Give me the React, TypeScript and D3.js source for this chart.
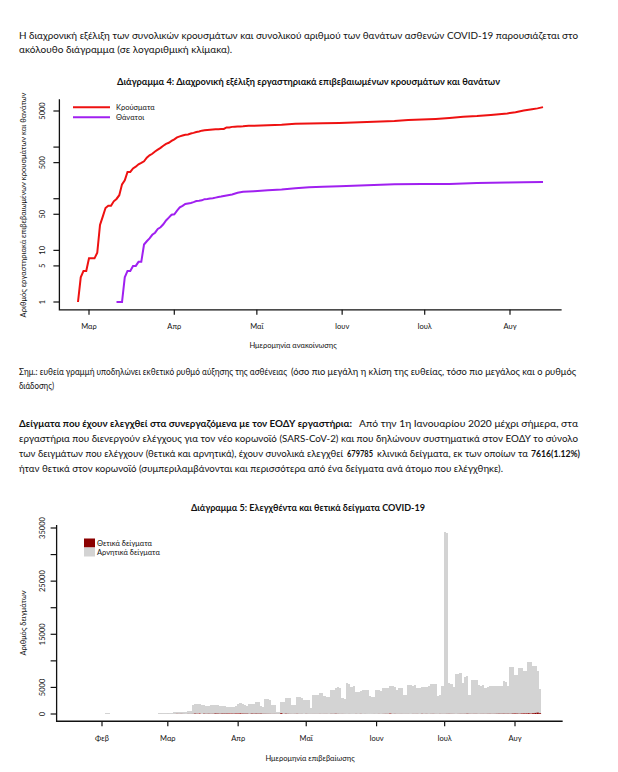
import React from "react";
import * as d3 from "d3";

// ---------- DATA ----------
const caseDates = [
  "2020-02-26","2020-02-27","2020-02-28","2020-02-29","2020-03-01","2020-03-02","2020-03-03","2020-03-04",
  "2020-03-05","2020-03-06","2020-03-07","2020-03-08","2020-03-09","2020-03-10","2020-03-11","2020-03-12",
  "2020-03-13","2020-03-14","2020-03-15","2020-03-16","2020-03-17","2020-03-18","2020-03-19","2020-03-20",
  "2020-03-21","2020-03-22","2020-03-23","2020-03-24","2020-03-25","2020-03-26","2020-03-27","2020-03-28",
  "2020-03-29","2020-03-30","2020-03-31","2020-04-01","2020-04-02","2020-04-03","2020-04-04","2020-04-05",
  "2020-04-06","2020-04-07","2020-04-08","2020-04-09","2020-04-10","2020-04-11","2020-04-12","2020-04-13",
  "2020-04-14","2020-04-15","2020-04-16","2020-04-17","2020-04-18","2020-04-19","2020-04-20","2020-04-21",
  "2020-04-22","2020-04-23","2020-04-24","2020-04-25","2020-04-26","2020-04-27","2020-04-28","2020-04-29",
  "2020-04-30","2020-05-05","2020-05-10","2020-05-15","2020-05-20","2020-05-25","2020-05-31","2020-06-05",
  "2020-06-10","2020-06-15","2020-06-20","2020-06-25","2020-06-30","2020-07-05","2020-07-10","2020-07-15",
  "2020-07-20","2020-07-25","2020-07-31","2020-08-03","2020-08-06","2020-08-09","2020-08-11","2020-08-13"
];
const caseTotals = [
  1, 3, 4, 4, 7, 7, 7, 9,
  31, 45, 66, 73, 73, 89, 99, 117,
  190, 228, 331, 331, 387, 418, 464, 495,
  530, 624, 695, 743, 821, 892, 966, 1061,
  1156, 1212, 1314, 1415, 1544, 1613, 1673, 1735,
  1755, 1832, 1884, 1955, 2011, 2081, 2114, 2145,
  2170, 2192, 2207, 2224, 2235, 2245, 2401, 2408,
  2463, 2490, 2506, 2517, 2534, 2566, 2576, 2591,
  2591, 2663, 2710, 2819, 2850, 2882, 2918, 2980,
  3058, 3121, 3203, 3343, 3409, 3519, 3672, 3876,
  3983, 4193, 4477, 4737, 5123, 5421, 5623, 5942
];
const deathDates = [
  "2020-03-11","2020-03-12","2020-03-13","2020-03-14","2020-03-15","2020-03-16","2020-03-17","2020-03-18",
  "2020-03-19","2020-03-20","2020-03-21","2020-03-22","2020-03-23","2020-03-24","2020-03-25","2020-03-26",
  "2020-03-27","2020-03-28","2020-03-29","2020-03-30","2020-03-31","2020-04-01","2020-04-02","2020-04-03",
  "2020-04-04","2020-04-05","2020-04-06","2020-04-07","2020-04-08","2020-04-09","2020-04-10","2020-04-11",
  "2020-04-12","2020-04-13","2020-04-14","2020-04-15","2020-04-16","2020-04-17","2020-04-18","2020-04-19",
  "2020-04-20","2020-04-22","2020-04-24","2020-04-26","2020-04-28","2020-04-30","2020-05-05","2020-05-10",
  "2020-05-15","2020-05-20","2020-05-25","2020-05-31","2020-06-10","2020-06-20","2020-06-30","2020-07-10",
  "2020-07-20","2020-07-31","2020-08-06","2020-08-13"
];
const deathTotals = [
  1, 1, 1, 3, 4, 4, 5, 5,
  6, 6, 13, 15, 17, 20, 22, 26,
  28, 32, 38, 43, 49, 50, 59, 68,
  73, 79, 81, 83, 86, 90, 91, 93,
  98, 99, 101, 102, 105, 108, 110, 113,
  116, 121, 130, 136, 138, 140, 146, 151,
  160, 166, 171, 175, 183, 190, 192, 193,
  201, 206, 209, 210
];
const chart1TickDates = ["2020-03-01","2020-04-01","2020-05-01","2020-06-01","2020-07-01","2020-08-01"];
const chart1TickLabels = ["Μαρ","Απρ","Μαΐ","Ιουν","Ιουλ","Αυγ"];
const chart1YTicks = [1, 5, 10, 50, 100, 500, 1000, 5000];
const chart1YLabels = ["1", "5", "10", "50", "", "500", "", "5000"];

// daily samples, starting 2020-01-27
const samplesStart = "2020-01-27";
const negativeSamples = [
  15, 8, 12, 20, 18,
  40, 60, 180, 250, 90, 45, 30, 20, 15, 25, 30, 20, 18, 12, 10, 15, 22, 20, 14, 12, 10, 16, 25, 30, 60, 120, 180, 210, 260,
  220, 180, 260, 300, 340, 310, 280, 380,
  420, 480, 560,
  1750, 1850, 1800, 1820, 1700,
  1600, 1550, 1520, 1600,
  1700, 1680, 1650,
  1500, 1480, 1450,
  1250, 1150, 1180,
  1350, 1400,
  1800, 1850, 1780,
  1600, 1520,
  1800, 1850, 1880,
  2200, 2150,
  1400, 1350,
  2700, 2800, 2650,
  1700, 1650,
  450, 420,
  2100, 2300,
  2900, 3000, 2950,
  1700, 1650,
  3100, 3200, 3050,
  2600, 2700, 2550,
  1070,
  3500, 3600, 3650,
  3900, 3850,
  3300, 3200, 3250,
  4500, 4550,
  4900, 5000, 4950,
  3000, 2900,
  5800, 5700,
  5100, 5200,
  4200, 4150, 4250,
  4500, 4550, 4450,
  3300, 3200, 3250,
  4500, 4550, 4400,
  4800, 4850, 4900,
  5100, 5200, 5150,
  4500, 4800, 4850,
  3600, 3500,
  5400, 5500, 5300, 5350,
  4800, 4850,
  5100, 5000, 5050, 5200,
  5600, 5650, 5550,
  3300, 3600,
  5200,
  34200, 34000,
  5800, 5700, 5150,
  7500, 7450, 7600,
  5770,
  7000, 7050,
  3570,
  6400, 6350, 6450,
  5450,
  5300, 5350,
  4830,
  5100, 5150, 5200,
  5250, 5300, 5200, 5300,
  6100, 6050,
  5140,
  8900, 8850,
  7300, 7350,
  8600, 8550,
  7950, 8000,
  9650, 9600,
  8900, 8850,
  7770,
  4640
];
const positiveSamples = [
  0, 0, 0, 0, 0, 0, 0, 0, 0, 0, 0, 0, 0, 0, 0, 0, 0, 0, 0, 0, 0, 0, 0, 0, 0, 0, 0, 0, 0, 0,
  1, 2, 1, 0,
  3, 0, 0, 2, 22, 14, 21, 7, 0, 16, 10, 18, 73, 38, 103, 0, 56, 31, 46, 31, 35, 94, 71, 48, 78, 71, 74, 95, 95, 56, 102,
  101, 129, 69, 60, 62, 20, 77, 52, 71, 56, 70, 33, 31, 25, 22, 15, 17, 11, 10, 156, 7, 55, 27, 16, 11, 17, 32, 10, 15, 0,
  21, 8, 8, 10, 10, 9, 17, 10, 15, 16, 6, 25, 20, 45, 19, 10, 15, 7, 3, 10, 4, 3, 16, 3, 21, 2, 8, 3, 2, 3, 8,
  2, 15, 6, 17, 26, 21, 97, 9, 22, 10, 11, 15, 9, 10, 12, 2, 16, 15, 19, 3, 35, 11, 24, 9, 20, 26, 12, 9, 21, 13,
  14, 24, 31, 21, 16, 6, 17, 26, 22, 25, 54, 26, 19, 27, 28, 13, 23, 25, 19, 30, 33, 23, 28, 41, 51, 45, 57, 44, 50, 36, 78,
  110, 75, 46, 110, 121, 124, 153, 97, 151, 203, 262, 150
];
const chart2TickDates = ["2020-02-01","2020-03-01","2020-04-01","2020-05-01","2020-06-01","2020-07-01","2020-08-01"];
const chart2TickLabels = ["Φεβ","Μαρ","Απρ","Μαΐ","Ιουν","Ιουλ","Αυγ"];
const chart2YTicks = [0, 5000, 10000, 15000, 20000, 25000, 30000, 35000];
const chart2YLabels = ["0", "5000", "", "15000", "", "25000", "", "35000"];
const chart2Frame = ["2020-01-12", "2020-08-22"];

// ---------- LAYOUT ----------
const FONT = "Lato, 'Open Sans', 'DejaVu Sans', sans-serif";
const parse = d3.utcParse("%Y-%m-%d");

function T(props: any) {
  const { x, y, w, size, bold, children, anchor } = props;
  return (
    <text x={x} y={y} fontSize={size} fontWeight={bold ? "bold" : "normal"} textAnchor={anchor}
      textLength={w} lengthAdjust={w ? "spacingAndGlyphs" : undefined}
      style={{ fontFamily: FONT, fill: "#111" }}>{children}</text>
  );
}

export default function App() {
  // chart 1
  const x1 = d3.scaleUtc().domain([parse("2020-03-01")!, parse("2020-08-01")!]).range([89, 510]);
  const y1 = d3.scaleLog().domain([1, 5000]).range([302, 111]);
  const cases = caseDates.map((d, i) => [parse(d)!, caseTotals[i]] as [Date, number]);
  const deaths = deathDates.map((d, i) => [parse(d)!, deathTotals[i]] as [Date, number]);
  const line1 = d3.line<[Date, number]>().x(d => x1(d[0])).y(d => y1(d[1]));
  const allT = [...cases, ...deaths].map(d => +d[0]);
  const tMin = d3.min(allT)!, tMax = d3.max(allT)!;
  const tPad = (tMax - tMin) * 0.04;
  const f1Left = x1(new Date(tMin - tPad)), f1Right = x1(new Date(tMax + tPad));
  const lMax = Math.log10(d3.max(caseTotals)!);
  const lPad = lMax * 0.04;
  const f1Bottom = y1(Math.pow(10, -lPad)), f1Top = y1(Math.pow(10, lMax + lPad));

  // chart 2
  const x2 = d3.scaleUtc().domain([parse("2020-02-01")!, parse("2020-08-01")!]).range([102, 515]);
  const y2 = d3.scaleLinear().domain([0, 35000]).range([714, 528]);
  const s0 = parse(samplesStart)!;
  const dayW = x2(d3.utcDay.offset(parse("2020-02-01")!, 1)) - x2(parse("2020-02-01")!);
  const bars = negativeSamples.map((n, i) => {
    const dt = d3.utcDay.offset(s0, i);
    const p = positiveSamples[i] || 0;
    return { dt, p, n };
  });
  const maxTotal = d3.max(bars, b => b.p + b.n)!;
  const f2Bottom = y2(-maxTotal * 0.04), f2Top = y2(maxTotal * 1.04);
  const f2Left = x2(parse(chart2Frame[0])!), f2Right = x2(parse(chart2Frame[1])!);

  const txt = { fontFamily: FONT, fill: "#111" } as const;

  return (
    <svg width={618} height={772} style={{ position: "absolute", left: 0, top: 0, background: "#fff" }}>
      <rect width={618} height={772} fill="#fff" />
      {/* paragraph 1 */}
      <T x={19} y={38.5} size={10} w={559}>Η διαχρονική εξέλιξη των συνολικών κρουσμάτων και συνολικού αριθμού των θανάτων ασθενών COVID-19 παρουσιάζεται στο</T>
      <T x={19} y={52.5} size={10} w={213}>ακόλουθο διάγραμμα (σε λογαριθμική κλίμακα).</T>

      {/* chart 1 */}
      <T x={117} y={84.5} size={9} bold w={383}>Διάγραμμα 4: Διαχρονική εξέλιξη εργαστηριακά επιβεβαιωμένων κρουσμάτων και θανάτων</T>
      <path d={`M${f1Left},${f1Top}V${f1Bottom}H${f1Right}`} fill="none" stroke="#111" strokeWidth={1.3} />
      {chart1YTicks.map((t, i) => (
        <g key={"y1" + t}>
          <line x1={f1Left} x2={f1Left - 6} y1={y1(t)} y2={y1(t)} stroke="#111" strokeWidth={1.2} />
          {chart1YLabels[i] && (
            <text transform={`translate(45,${y1(t)}) rotate(-90)`} textAnchor="middle" fontSize={7.5} style={txt}>
              {chart1YLabels[i]}
            </text>
          )}
        </g>
      ))}
      {chart1TickDates.map((d, i) => (
        <g key={"x1" + d}>
          <line x1={x1(parse(d)!)} x2={x1(parse(d)!)} y1={f1Bottom} y2={f1Bottom + 5} stroke="#111" strokeWidth={1.2} />
          <text x={x1(parse(d)!)} y={329} textAnchor="middle" fontSize={7.5} style={txt}>{chart1TickLabels[i]}</text>
        </g>
      ))}
      <text x={293} y={348} textAnchor="middle" fontSize={7.5} style={txt}>Ημερομηνία ανακοίνωσης</text>
      <text transform={`translate(26,${205}) rotate(-90)`} textAnchor="middle" fontSize={7.5} textLength={225} lengthAdjust="spacingAndGlyphs" style={txt}>
        Αριθμός εργαστηριακά επιβεβαιωμένων κρουσμάτων και θανάτων
      </text>
      <path d={line1(cases)!} fill="none" stroke="#ee1111" strokeWidth={2} />
      <path d={line1(deaths)!} fill="none" stroke="#a020f0" strokeWidth={2} />
      {/* legend 1 */}
      <line x1={73} x2={110} y1={107.3} y2={107.3} stroke="#ee1111" strokeWidth={2} />
      <line x1={73} x2={110} y1={117.3} y2={117.3} stroke="#a020f0" strokeWidth={2} />
      <text x={116} y={107.3} dy="0.35em" fontSize={7.5} style={txt}>Κρούσματα</text>
      <text x={116} y={117.3} dy="0.35em" fontSize={7.5} style={txt}>Θάνατοι</text>

      {/* note */}
      <T x={19} y={375} size={9} w={268}>Σημ.: ευθεία γραμμή υποδηλώνει εκθετικό ρυθμό αύξησης της ασθένειας</T>
      <T x={291} y={375} size={9} w={285}>(όσο πιο μεγάλη η κλίση της ευθείας, τόσο πιο μεγάλος και ο ρυθμός</T>
      <T x={19} y={389} size={9} w={35}>διάδοσης)</T>

      {/* paragraph 3 */}
      <T x={19} y={427} size={10} bold w={333}>Δείγματα που έχουν ελεγχθεί στα συνεργαζόμενα με τον ΕΟΔΥ εργαστήρια:</T>
      <T x={359} y={427} size={10} w={219}>Από την 1η Ιανουαρίου 2020 μέχρι σήμερα, στα</T>
      <T x={19} y={442} size={10} w={559}>εργαστήρια που διενεργούν ελέγχους για τον νέο κορωνοϊό (SARS-CoV-2) και που δηλώνουν συστηματικά στον ΕΟΔΥ το σύνολο</T>
      <T x={19} y={457} size={9.5} w={324}>των δειγμάτων που ελέγχουν (θετικά και αρνητικά), έχουν συνολικά ελεγχθεί</T>
      <T x={347} y={457} size={8.5} bold w={26}>679785</T>
      <T x={377} y={457} size={9.5} w={151}>κλινικά δείγματα, εκ των οποίων τα</T>
      <T x={531} y={457} size={9} bold w={49}>7616(1.12%)</T>
      <T x={19} y={472} size={10} w={484}>ήταν θετικά στον κορωνοϊό (συμπεριλαμβάνονται και περισσότερα από ένα δείγματα ανά άτομο που ελέγχθηκε).</T>

      {/* chart 2 */}
      <T x={191} y={510.5} size={9} bold w={234}>Διάγραμμα 5: Ελεγχθέντα και θετικά δείγματα COVID-19</T>
      <g shapeRendering="crispEdges">
        {bars.map((b, i) => (
          <rect key={"g" + i} x={x2(b.dt) - dayW / 2} width={dayW} y={y2(b.p + b.n)} height={y2(b.p) - y2(b.p + b.n)} fill="#d3d3d3" />
        ))}
      </g>
      {bars.map((b, i) => b.p > 0 ? (
        <rect key={"r" + i} x={x2(b.dt) - dayW / 2} width={dayW} y={y2(b.p)} height={y2(0) - y2(b.p)} fill="#8b0000" />
      ) : null)}
      <path d={`M${f2Left},${f2Top}V${f2Bottom}H${f2Right}`} fill="none" stroke="#111" strokeWidth={1.3} />
      {chart2YTicks.map((t, i) => (
        <g key={"y2" + t}>
          <line x1={f2Left} x2={f2Left - 6} y1={y2(t)} y2={y2(t)} stroke="#111" strokeWidth={1.2} />
          {chart2YLabels[i] && (
            <text transform={`translate(45,${y2(t)}) rotate(-90)`} textAnchor="middle" fontSize={7.5} style={txt}>
              {chart2YLabels[i]}
            </text>
          )}
        </g>
      ))}
      {chart2TickDates.map((d, i) => (
        <g key={"x2" + d}>
          <line x1={x2(parse(d)!)} x2={x2(parse(d)!)} y1={f2Bottom} y2={f2Bottom + 5} stroke="#111" strokeWidth={1.2} />
          <text x={x2(parse(d)!)} y={741} textAnchor="middle" fontSize={7.5} style={txt}>{chart2TickLabels[i]}</text>
        </g>
      ))}
      <text x={310} y={761} textAnchor="middle" fontSize={7.5} style={txt}>Ημερομηνία επιβεβαίωσης</text>
      <text transform={`translate(26,${623}) rotate(-90)`} textAnchor="middle" fontSize={7.5} style={txt}>Αριθμός δειγμάτων</text>
      {/* legend 2 */}
      <rect x={84} y={538.5} width={11} height={9} fill="#8b0000" />
      <rect x={84} y={547.5} width={11} height={9} fill="#d3d3d3" />
      <text x={97} y={543} dy="0.35em" fontSize={7.5} style={txt}>Θετικά δείγματα</text>
      <text x={97} y={552} dy="0.35em" fontSize={7.5} style={txt}>Αρνητικά δείγματα</text>
    </svg>
  );
}
